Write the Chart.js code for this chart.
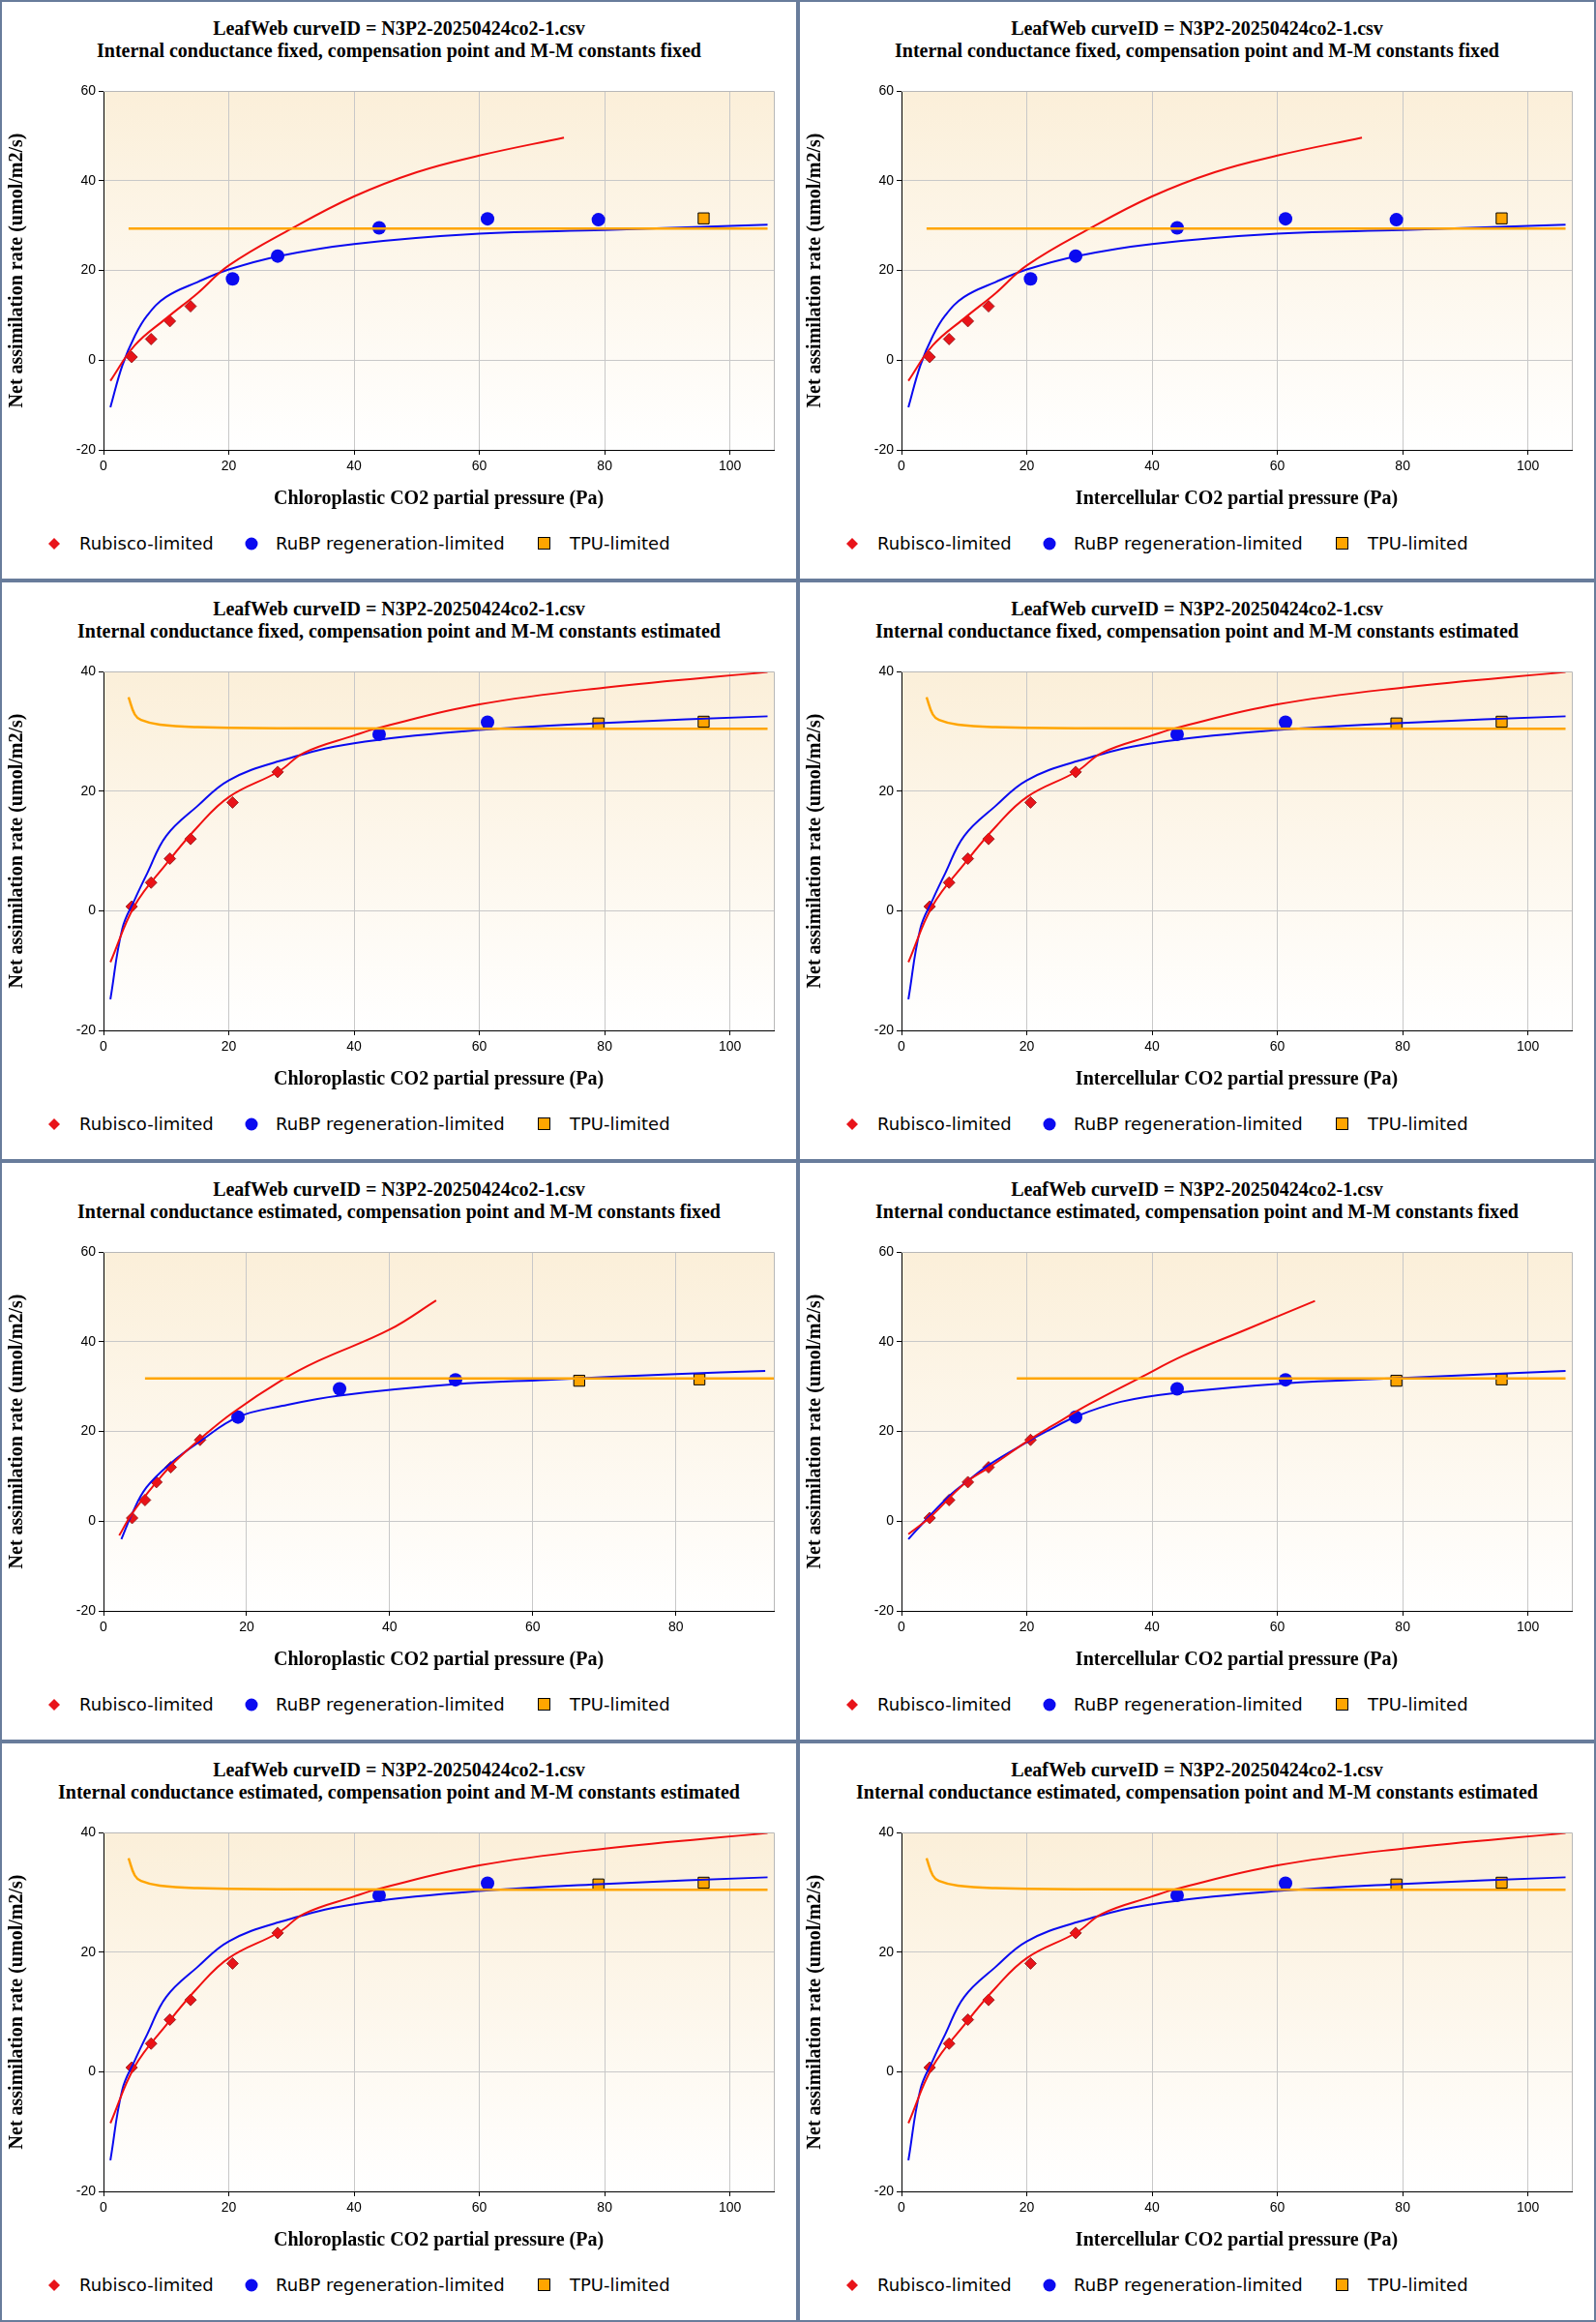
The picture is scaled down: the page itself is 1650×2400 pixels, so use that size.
<!DOCTYPE html>
<html>
<head>
<meta charset="utf-8">
<script src="https://cdn.jsdelivr.net/npm/chart.js@4.4.1/dist/chart.umd.min.js"></script>
<style>
  body { margin: 0; background: #fff; }
  #grid { width: 1650px; height: 2400px; display: flex; flex-wrap: wrap; }
  .panel { position: relative; width: 825px; height: 600px; box-sizing: border-box; border: 2px solid #687c9b; background: #fff; }
  .panel canvas { position: absolute; left: 0; top: 0; }
  .ttl { position: absolute; left: 0; width: 821px; text-align: center; font: bold 20px "Liberation Serif", serif; color: #000; line-height: 23px; }
  .legend { position: absolute; top: 549px; left: 0; font: 18px "DejaVu Sans", sans-serif; color: #000; }
  .legend span { position: absolute; white-space: nowrap; line-height: 22px; }
  .mk { position: absolute; }
</style>
</head>
<body>
<div id="grid"></div>
<script>
// measured points (intercellular / chloroplastic with gm fixed)
const ptX = [4.5, 7.6, 10.6, 13.9, 20.6, 27.8, 44.0, 61.3, 79.0, 95.8];
const ptA = [0.7, 4.7, 8.7, 12.0, 18.1, 23.2, 29.5, 31.5, 31.3, 31.6];
// chloroplastic with gm estimated
const ptXcEst = [4.0, 5.8, 7.4, 9.4, 13.5, 18.8, 33.0, 49.2, 66.5, 83.3];

// gm fixed, constants fixed
const ffRedX = [1.1, 5, 10, 15, 20, 30, 40, 50, 60, 73.5];
const ffRedY = [-4.6, 3.3, 9.3, 14.9, 21.1, 29.3, 36.5, 41.9, 45.6, 49.6];
const ffBlueX = [1.1, 3, 5, 7, 10, 15, 20, 28, 40, 60, 80, 106];
const ffBlueY = [-10.5, -1.2, 5.4, 10, 14.1, 17.4, 20.2, 23.2, 25.9, 28.2, 29.0, 30.2];
const ffTpuX = [4, 106];
const ffTpuY = [29.3, 29.3];

// gm fixed, constants estimated
const feRedX = [1.1, 5, 10, 15, 20, 28, 32, 40, 44, 60, 80, 106];
const feRedY = [-8.6, 0.9, 7.8, 14, 19, 23.3, 26.4, 29.3, 30.6, 34.5, 37.3, 39.9];
const feBlueX = [1.1, 3, 5, 7, 10, 15, 20, 28, 40, 60, 80, 106];
const feBlueY = [-14.8, -3, 1.9, 6.3, 12.5, 17.5, 21.8, 25, 28, 30.2, 31.4, 32.5];
const feTpuX = [4, 5, 6, 9, 15, 30, 106];
const feTpuY = [35.7, 32.8, 31.9, 31.1, 30.7, 30.5, 30.4];

// gm estimated, constants fixed (chloroplastic)
const efcRedX = [2.2, 4, 7.4, 10, 13.5, 18, 25, 30, 40, 46.5];
const efcRedY = [-3.2, 1.7, 8.7, 13.3, 18.3, 24.1, 31.5, 35.7, 42.7, 49.2];
const efcBlueX = [2.5, 4, 6, 9.4, 13.5, 18.8, 25, 33, 49, 62, 80, 92.5];
const efcBlueY = [-4, 1.7, 7.5, 12.9, 17.8, 23.2, 25.7, 28.0, 30.5, 31.5, 32.8, 33.5];
const efcTpuX = [5.8, 93.7];
const efcTpuY = [31.8, 31.8];

// gm estimated, constants fixed (intercellular)
const efiRedX = [1.1, 4.5, 10, 14, 20.6, 24, 30, 38, 45, 55, 66];
const efiRedY = [-2.9, 0.8, 8.3, 12, 18.3, 21.2, 26.1, 31.9, 36.9, 42.7, 49.1];
const efiBlueX = [1.1, 4.5, 8, 10.6, 14, 20, 23, 28, 35, 44, 61, 80, 106];
const efiBlueY = [-4, 1.2, 6.1, 9, 12.6, 17.6, 19.9, 23.4, 26.6, 28.6, 30.7, 31.9, 33.5];
const efiTpuX = [18.4, 106];
const efiTpuY = [31.8, 31.8];

const titleTop = 'LeafWeb curveID = N3P2-20250424co2-1.csv';
const xLabelC = 'Chloroplastic CO2 partial pressure (Pa)';
const xLabelI = 'Intercellular CO2 partial pressure (Pa)';
const yLabel = 'Net assimilation rate (umol/m2/s)';

const zip = (xs, ys) => xs.map((x, i) => ({x: x, y: ys[i]}));
const pick = (xs, from, to) => xs.slice(from, to).map((x, i) => ({x: x, y: ptA[from + i]}));

const panels = [
  {sub: 'Internal conductance fixed, compensation point and M-M constants fixed', xl: xLabelC, ymax: 60, xmax: 107, px: ptX, cut: [4, 9],
   red: [ffRedX, ffRedY], blue: [ffBlueX, ffBlueY], tpu: [ffTpuX, ffTpuY]},
  {sub: 'Internal conductance fixed, compensation point and M-M constants fixed', xl: xLabelI, ymax: 60, xmax: 107, px: ptX, cut: [4, 9],
   red: [ffRedX, ffRedY], blue: [ffBlueX, ffBlueY], tpu: [ffTpuX, ffTpuY]},
  {sub: 'Internal conductance fixed, compensation point and M-M constants estimated', xl: xLabelC, ymax: 40, xmax: 107, px: ptX, cut: [6, 8],
   red: [feRedX, feRedY], blue: [feBlueX, feBlueY], tpu: [feTpuX, feTpuY]},
  {sub: 'Internal conductance fixed, compensation point and M-M constants estimated', xl: xLabelI, ymax: 40, xmax: 107, px: ptX, cut: [6, 8],
   red: [feRedX, feRedY], blue: [feBlueX, feBlueY], tpu: [feTpuX, feTpuY]},
  {sub: 'Internal conductance estimated, compensation point and M-M constants fixed', xl: xLabelC, ymax: 60, xmax: 93.7, px: ptXcEst, cut: [5, 8],
   red: [efcRedX, efcRedY], blue: [efcBlueX, efcBlueY], tpu: [efcTpuX, efcTpuY]},
  {sub: 'Internal conductance estimated, compensation point and M-M constants fixed', xl: xLabelI, ymax: 60, xmax: 107, px: ptX, cut: [5, 8],
   red: [efiRedX, efiRedY], blue: [efiBlueX, efiBlueY], tpu: [efiTpuX, efiTpuY]},
  {sub: 'Internal conductance estimated, compensation point and M-M constants estimated', xl: xLabelC, ymax: 40, xmax: 107, px: ptX, cut: [6, 8],
   red: [feRedX, feRedY], blue: [feBlueX, feBlueY], tpu: [feTpuX, feTpuY]},
  {sub: 'Internal conductance estimated, compensation point and M-M constants estimated', xl: xLabelI, ymax: 40, xmax: 107, px: ptX, cut: [6, 8],
   red: [feRedX, feRedY], blue: [feBlueX, feBlueY], tpu: [feTpuX, feTpuY]},
];

const bgPlugin = {
  id: 'bg',
  beforeDraw(chart) {
    const {ctx, chartArea: a} = chart;
    const g = ctx.createLinearGradient(0, a.top, 0, a.bottom);
    g.addColorStop(0, '#fbefd9');
    g.addColorStop(1, '#ffffff');
    ctx.save();
    ctx.fillStyle = g;
    ctx.fillRect(a.left, a.top, a.right - a.left, a.bottom - a.top);
    ctx.restore();
  },
  afterDraw(chart) {
    const {ctx, chartArea: a} = chart;
    ctx.save();
    ctx.strokeStyle = '#b8b8b8';
    ctx.lineWidth = 1;
    ctx.beginPath();
    ctx.moveTo(a.left, a.top + 0.5); ctx.lineTo(a.right + 0.5, a.top + 0.5); ctx.lineTo(a.right + 0.5, a.bottom);
    ctx.stroke();
    ctx.restore();
  }
};

const gridEl = document.getElementById('grid');

panels.forEach(p => {
  const div = document.createElement('div');
  div.className = 'panel';
  div.innerHTML =
    '<div class="ttl" style="top:16px">' + titleTop + '</div>' +
    '<div class="ttl" style="top:39px">' + p.sub + '</div>' +
    '<canvas width="821" height="530" style="width:821px;height:530px"></canvas>' +
    '<div class="legend">' +
      '<svg class="mk" style="left:47px;top:4px" width="14" height="14"><polygon points="7,1 13,7 7,13 1,7" fill="#e8141a"/></svg>' +
      '<span style="left:80px">Rubisco-limited</span>' +
      '<svg class="mk" style="left:250px;top:3px" width="16" height="16"><circle cx="8" cy="8" r="6.5" fill="#0b0bf0"/></svg>' +
      '<span style="left:283px">RuBP regeneration-limited</span>' +
      '<svg class="mk" style="left:553px;top:3px" width="16" height="16"><rect x="1.5" y="1.5" width="12" height="12" fill="#ffa500" stroke="#000" stroke-width="1"/></svg>' +
      '<span style="left:587px">TPU-limited</span>' +
    '</div>';
  gridEl.appendChild(div);
  const canvas = div.querySelector('canvas');

  const [c1, c2] = p.cut;
  const line = (xy, color, w) => ({
    data: zip(xy[0], xy[1]), showLine: true, borderColor: color, borderWidth: w,
    pointRadius: 0, tension: 0.4, fill: false
  });

  new Chart(canvas, {
    type: 'scatter',
    data: {
      datasets: [
        line(p.tpu, '#ffa500', 2.5),
        line(p.red, '#f01010', 2),
        line(p.blue, '#0a0af0', 2),
        {data: pick(p.px, 0, c1), pointStyle: 'rectRot', pointRadius: 6, backgroundColor: '#e8141a', borderColor: '#8a1010', borderWidth: 0.8},
        {data: pick(p.px, c1, c2), pointStyle: 'circle', pointRadius: 7, backgroundColor: '#0b0bf0', borderColor: '#0b0bf0', borderWidth: 0},
        {data: pick(p.px, c2, 10), pointStyle: 'rect', pointRadius: 8, backgroundColor: '#ffa500', borderColor: '#000', borderWidth: 1}
      ]
    },
    options: {
      responsive: false,
      animation: false,
      devicePixelRatio: 1,
      layout: {padding: {top: 92, right: 23, left: 0, bottom: 0}},
      plugins: {legend: {display: false}, tooltip: {enabled: false}},
      scales: {
        x: {
          type: 'linear', min: 0, max: p.xmax,
          afterBuildTicks: s => { s.ticks = s.ticks.filter(t => t.value % 20 === 0); },
          afterFit: s => { s.height = 67; },
          ticks: {stepSize: 20, color: '#000', padding: 4, font: {family: '"Liberation Sans Narrow", "Liberation Sans", sans-serif', size: 14}},
          grid: {color: '#c8c8c8', tickLength: 5, tickColor: '#000'},
          border: {color: '#000'},
          title: {display: true, text: p.xl, color: '#000', padding: {top: 0}, font: {family: '"Liberation Serif", serif', weight: 'bold', size: 20}}
        },
        y: {
          min: -20, max: p.ymax,
          afterFit: s => { s.width = 105; },
          ticks: {stepSize: 20, color: '#000', padding: 3, font: {family: '"Liberation Sans Narrow", "Liberation Sans", sans-serif', size: 14}},
          grid: {color: '#c8c8c8', tickLength: 5, tickColor: '#000'},
          border: {color: '#000'},
          title: {display: true, text: yLabel, color: '#000', padding: {bottom: 14}, font: {family: '"Liberation Serif", serif', weight: 'bold', size: 20}}
        }
      }
    },
    plugins: [bgPlugin]
  });
});
</script>
</body>
</html>
